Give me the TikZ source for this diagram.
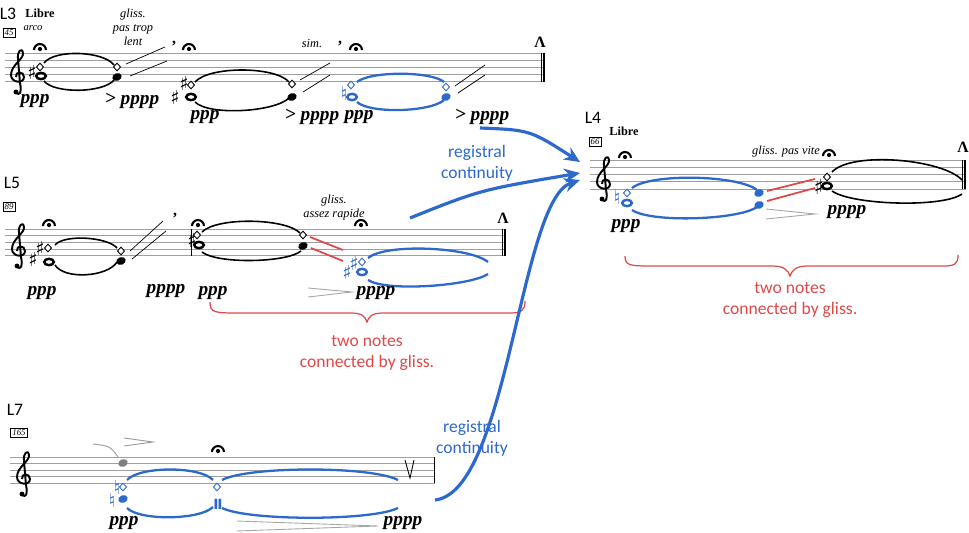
\documentclass[tikz,border=0pt]{standalone}
\usepackage{fontspec}
\setmainfont{Liberation Serif}
\newfontfamily\lab{Carlito}
\newfontfamily\sym{DejaVu Sans}
\usepackage{tikz}
\usetikzlibrary{shapes.geometric,arrows.meta,calc}
\definecolor{regblue}{RGB}{45,105,205}
\definecolor{glred}{RGB}{222,72,72}
\newcommand{\staff}[4]{\foreach \k in {0,...,4} \draw[staffline] (#1,{#3+\k*#4}) -- (#2,{#3+\k*#4});}
\newcommand{\fermata}[1]{\fill #1 circle (1.2pt); \draw[line width=1.2pt] ($#1+(-6,1)$) arc[start angle=180,end angle=0,radius=3.4pt];}
\newcommand{\slur}[6][]{\draw[slur,#1] (#2,#3) .. controls ({#2+0.15*(#4-#2)},{#3+#6}) and ({#4-0.15*(#4-#2)},{#5+#6}) .. (#4,#5);}
\newcommand{\gclef}[2]{\begin{scope}[shift={(#1,#2)}]
  \draw[line width=1.1pt] (-2,18) .. controls (2,21) and (4,17) .. (2,8) -- (0,-16) .. controls (-1,-24) and (4,-28) .. (5,-22) .. controls (6,-16) and (-7,-10) .. (-7,0) .. controls (-7,8) and (6,9) .. (6,2) .. controls (6,-4) and (-3,-4) .. (-2,2);
  \fill (-2,17) circle (1.4pt);
\end{scope}}

\begin{document}
\begin{tikzpicture}[x=0.02cm, y=-0.02cm,
    staffline/.style={draw=gray!75, line width=0.5pt},
    harm/.style={draw, diamond, inner sep=0pt, minimum width=4.2pt, minimum height=4.6pt, line width=0.5pt, fill=white},
    whole/.style={draw, ellipse, line width=1.4pt, inner sep=0pt, minimum width=5.5pt, minimum height=3.6pt},
    blk/.style={fill, ellipse, inner sep=0pt, minimum width=5.5pt, minimum height=4.3pt, rotate=20},
    acc/.style={font=\sym\fontsize{11}{11}\selectfont, inner sep=0pt},
    dyn/.style={font=\bfseries\itshape\fontsize{11}{11}\selectfont, inner sep=0pt},
    small/.style={font=\itshape\fontsize{6}{7}\selectfont, inner sep=0pt, align=center},
    tempo/.style={font=\bfseries\fontsize{7}{7}\selectfont, inner sep=0pt},
    bar/.style={draw, font=\itshape\fontsize{5}{5}\selectfont, inner sep=1pt, line width=0.3pt},
    line/.style={font=\lab\fontsize{10}{10}\selectfont, inner sep=0pt},
    slur/.style={line width=0.9pt},
    bslur/.style={line width=1.3pt},
    gl/.style={line width=0.4pt},
    hair/.style={draw=gray!70, line width=0.5pt},
    redl/.style={draw=glred, line width=1pt},
    brace/.style={draw=glred, line width=0.7pt},
    note/.style={font=\lab\fontsize{10}{12}\selectfont, text=#1, align=center, inner sep=0pt},
    cont/.style={draw=regblue, line width=1.8pt, -{Stealth[length=9pt,width=8pt]}},
    accent/.style={font=\bfseries\fontsize{9}{9}\selectfont, inner sep=0pt}
  ]
    \useasboundingbox (0,0) rectangle (969,533);

    % L3
    \node[line] (l3) at (8,14) {L3};
    \node[tempo] at (40,13) {Libre};
    \node[small] at (33,28) {arco};
    \node[bar] at (9,33) {45};
    \staff{5}{545}{53}{7.2}
    \draw[line width=0.5pt] (541,53) -- (541,82);
    \draw[line width=1.2pt] (544,53) -- (544,82);
    \gclef{18}{75}
    \node[acc] at (32,72) {♯};
    \node[harm] (a1h) at (40,67) {};
    \node[whole] (a1) at (41,76) {};
    \fermata{(40,49)}
    \slur{44}{63}{114}{65}{-14}
    \slur{44}{81}{114}{80}{13}
    \node[harm] (a2h) at (117,67) {};
    \node[blk] (a2) at (117,77) {};
    \draw[gl] (126,64) -- (165,47);
    \draw[gl] (130,76) -- (167,61);
    \node[small, font=\itshape\fontsize{7}{8}\selectfont] at (133,27) {gliss.\\pas trop\\lent};
    \node[dyn] at (35,101) {ppp};
    \node[dyn] at (132,101) {> pppp};
    \node[accent] at (174,44) {,};
    \fermata{(189,49)}
    \node[acc] at (175,97) {♯};
    \node[acc] at (184,83) {♯};
    \node[harm] (a3h) at (191,85) {};
    \node[whole] (a3) at (191,97) {};
    \slur{195}{82}{289}{82}{-16}
    \slur{195}{102}{289}{98}{14}
    \node[harm] (a4h) at (292,84) {};
    \node[blk] (a4) at (292,97) {};
    \draw[gl] (300,80) -- (330,63);
    \draw[gl] (303,92) -- (330,75);
    \node[small, font=\itshape\fontsize{7}{8}\selectfont] at (312,44) {sim.};
    \node[dyn] at (205,117) {ppp};
    \node[dyn] at (312,117) {> pppp};
    \node[accent] at (340,44) {,};
    \fermata{(356,49)}
    \begin{scope}[regblue]
      \node[acc] at (344,93) {♮};
      \node[harm] (a5h) at (351,85) {};
      \node[whole] (a5) at (352,97) {};
      \slur[bslur]{357}{82}{444}{82}{-11}
      \slur[bslur]{357}{102}{444}{100}{12}
      \node[harm] (a6h) at (446,87) {};
      \node[blk] (a6) at (446,97) {};
    \end{scope}
    \draw[gl] (455,86) -- (485,65);
    \draw[gl] (458,93) -- (485,75);
    \node[dyn] at (359,117) {ppp};
    \node[dyn] at (482,117) {> pppp};
    \node[accent] at (540,42) {Λ};

    % L5
    \node[line] (l5) at (12,183) {L5};
    \node[bar] at (9,207) {89};
    \staff{5}{506}{229}{6.7}
    \draw[line width=0.5pt] (502,229) -- (502,256);
    \draw[line width=1.2pt] (505,229) -- (505,256);
    \gclef{19}{249}
    \node[acc] at (33,259) {♯};
    \node[acc] at (40,248) {♯};
    \node[harm] (b1h) at (48,248) {};
    \node[whole] (b1) at (49,262) {};
    \fermata{(49,225)}
    \slur{55}{245}{117}{248}{-11}
    \slur{55}{265}{117}{262}{15}
    \node[harm] (b2h) at (121,251) {};
    \node[blk] (b2) at (121,261) {};
    \draw[gl] (130,251) -- (163,221);
    \draw[gl] (132,259) -- (166,231);
    \node[dyn] at (42,293) {ppp};
    \node[dyn] at (166,291) {pppp};
    \node[accent] at (175,216) {,};
    \fermata{(198,225)}
    \draw[line width=0.4pt] (191,229) -- (191,256);
    \node[acc] at (192,240) {♯};
    \node[harm] (b3h) at (197,235) {};
    \node[whole] (b3) at (199,245) {};
    \slur{202}{232}{300}{233}{-15}
    \slur{202}{252}{301}{251}{12}
    \node[harm] (b4h) at (303,235) {};
    \node[blk] (b4) at (303,246) {};
    \node[small, font=\itshape\fontsize{7}{8}\selectfont] at (334,208) {gliss.\\assez rapide};
    \fermata{(361,225)}
    \draw[redl] (310,237) -- (343,250);
    \draw[redl] (311,248) -- (343,261);
    \begin{scope}[regblue]
      \node[acc] at (347,272) {♯};
      \node[acc] at (354,263) {♯};
      \node[harm] (b5h) at (362,262) {};
      \node[whole] (b5) at (362,272) {};
      \slur[bslur]{368}{258}{488}{262}{-15}
      \slur[bslur]{368}{280}{488}{274}{12}
    \end{scope}
    \draw[hair] (308,288) -- (352,292) -- (308,297);
    \node[dyn] at (213,293) {ppp};
    \node[dyn] at (376,293) {pppp};
    \node[accent] at (503,218) {Λ};
    \draw[brace] (210,302) .. controls (210,313) and (215,313) .. (240,313) -- (350,313) .. controls (362,313) and (365,316) .. (367,322) .. controls (369,316) and (372,313) .. (384,313) -- (510,313) .. controls (522,313) and (525,310) .. (525,301);
    \node[note=glred] at (367,353) {two notes\\connected by gliss.};

    % L7
    \node[line] (l7) at (15,410) {L7};
    \node[bar] at (19,433) {165};
    \staff{10}{435}{457}{6.5}
    \draw[line width=0.5pt] (434,457) -- (434,483);
    \gclef{24}{477}
    \draw[draw=gray!70, line width=0.6pt] (93,444) .. controls (110,446) .. (118,457);
    \node[blk, fill=gray] (c0) at (123,463) {};
    \draw[hair, draw=gray!80] (124,438) -- (153,442) -- (124,446);
    \fermata{(218,451)}
    \begin{scope}[regblue]
      \node[acc] at (112,500) {♮};
      \node[acc] at (117,487) {♮};
      \node[harm] (c1h) at (123,487) {};
      \node[blk] (c1) at (123,499) {};
      \slur[bslur]{127}{480}{213}{480}{-14}
      \slur[bslur]{127}{508}{213}{507}{13}
      \node[harm] (c2h) at (217,487) {};
      \node[inner sep=0pt, font=\sym\bfseries\fontsize{8}{8}\selectfont] (c2) at (218,504) {Ⅱ};
      \slur[bslur]{222}{480}{398}{480}{-14}
      \slur[bslur]{222}{508}{398}{508}{13}
    \end{scope}
    \draw[line width=0.5pt] (405,460) -- (410,478) -- (414,460);
    \node[dyn] at (124,523) {ppp};
    \draw[hair] (237,521) -- (378,526) -- (237,531);
    \node[dyn] at (403,523) {pppp};

    % L4
    \node[line] (l4) at (593,118) {L4};
    \node[tempo] at (624,131) {Libre};
    \node[bar] at (595,142) {66};
    \staff{590}{966}{160}{7.3}
    \draw[line width=0.5pt] (962,160) -- (962,189);
    \draw[line width=1.2pt] (965,160) -- (965,189);
    \gclef{604}{182}
    \fermata{(625,157)}
    \begin{scope}[regblue]
      \node[acc] at (617,197) {♮};
      \node[harm] (d1h) at (627,193) {};
      \node[whole] (d1) at (627,203) {};
      \slur[bslur]{632}{188}{757}{190}{-15}
      \slur[bslur]{632}{210}{757}{207}{13}
      \node[blk] (d2h) at (759,193) {};
      \node[blk] (d2) at (759,205) {};
    \end{scope}
    \draw[redl] (767,191) -- (815,179);
    \draw[redl] (767,201) -- (815,188);
    \node[acc, font=\sym\fontsize{12}{12}\selectfont] at (819,187) {♯};
    \node[harm] (d3h) at (827,177) {};
    \node[whole] (d3) at (827,186) {};
    \fermata{(829,155)}
    \slur{832}{172}{962}{180}{-21}
    \slur{832}{191}{962}{194}{14}
    \node[small, font=\itshape\fontsize{7}{8}\selectfont] at (786,152) {gliss. pas vite};
    \draw[hair] (766,209) -- (815,214) -- (766,219);
    \node[dyn] at (847,212) {pppp};
    \node[dyn] at (626,226) {ppp};
    \node[accent] at (963,147) {Λ};
    \draw[brace] (625,256) .. controls (625,266) and (630,266) .. (655,266) -- (772,266) .. controls (784,266) and (788,270) .. (790,276) .. controls (792,270) and (796,266) .. (808,266) -- (943,266) .. controls (955,266) and (958,264) .. (958,255);
    \node[note=glred] at (790,300) {two notes\\connected by gliss.};

    % continuity arrows
    \coordinate (s1) at (480,128);
    \coordinate (s2) at (410,218);
    \coordinate (s3) at (435,500);
    \coordinate (t1) at (580,162);
    \coordinate (t2) at (580,173);
    \coordinate (t3) at (580,180);
    \node[note=regblue] (rc1) at (477,163) {registral\\continuity};
    \node[note=regblue] (rc2) at (472,438) {registral\\continuity};
    \draw[cont] (s1) .. controls (530,130) .. (t1);
    \draw[cont] (s2) .. controls (480,190) .. (t2);
    \draw[cont] (s3) .. controls (508,492) and (520,200) .. (t3);
\end{tikzpicture}
\end{document}
